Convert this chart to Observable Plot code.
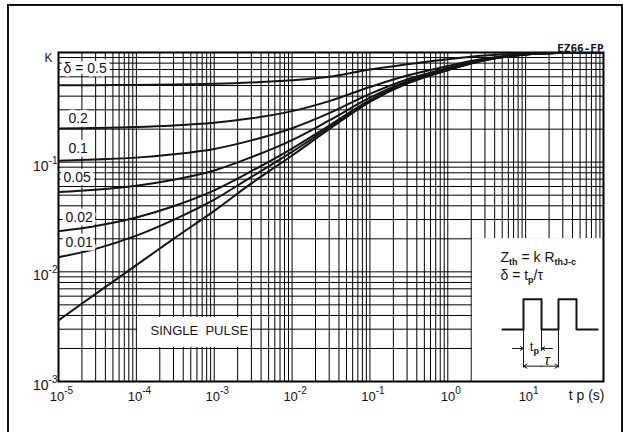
<!DOCTYPE html>
<html><head><meta charset="utf-8">
<script src="https://cdn.jsdelivr.net/npm/d3@7"></script>
<script src="https://cdn.jsdelivr.net/npm/@observablehq/plot@0.6"></script>
<style>
html,body{margin:0;padding:0;background:#fff;overflow:hidden}
#wrap{position:relative;width:623px;height:432px}
#border{position:absolute;left:7px;top:4px;width:612px;height:440px;border:2px solid #111;border-bottom:none;pointer-events:none}
#chart{position:absolute;left:0;top:0}
</style></head><body>
<div id="wrap"><div id="chart"></div><div id="border"></div></div>
<script>
// ---- data ----
const tp = [1e-5, 3e-5, 1e-4, 3e-4, 1e-3, 3e-3, 1e-2, 3e-2, 1e-1, 3e-1, 1, 3, 10, 30, 100];
const kSingle = [0.0036, 0.0063, 0.0115, 0.020, 0.036, 0.064, 0.115, 0.20, 0.355, 0.52, 0.69, 0.85, 0.96, 0.993, 1.0];
const k001 = [0.0136, 0.0162, 0.0214, 0.0298, 0.0456, 0.0734, 0.124, 0.208, 0.361, 0.525, 0.693, 0.852, 0.96, 0.993, 1.0];
const k002 = [0.0235, 0.0262, 0.0313, 0.0396, 0.0553, 0.0827, 0.133, 0.216, 0.368, 0.530, 0.696, 0.853, 0.961, 0.993, 1.0];
const k005 = [0.0534, 0.056, 0.0609, 0.069, 0.084, 0.111, 0.159, 0.24, 0.387, 0.544, 0.706, 0.858, 0.962, 0.993, 1.0];
const k01 = [0.103, 0.106, 0.110, 0.118, 0.132, 0.158, 0.204, 0.28, 0.42, 0.568, 0.721, 0.865, 0.964, 0.994, 1.0];
const k02 = [0.203, 0.205, 0.209, 0.216, 0.229, 0.251, 0.292, 0.36, 0.484, 0.616, 0.752, 0.88, 0.968, 0.994, 1.0];
const k05 = [0.502, 0.503, 0.506, 0.51, 0.518, 0.532, 0.558, 0.60, 0.70, 0.78, 0.87, 0.94, 0.982, 0.997, 1.0];

const xTicks = [1e-5, 1e-4, 1e-3, 1e-2, 1e-1, 1, 10];
const xTickLabels = ["10^{-5}", "10^{-4}", "10^{-3}", "10^{-2}", "10^{-1}", "10^{0}", "10^{1}"];
const yTicks = [1e-3, 1e-2, 1e-1];
const yTickLabels = ["10^{-3}", "10^{-2}", "10^{-1}"];

const curveLabels = ["\u03b4 = 0.5", "0.2", "0.1", "0.05", "0.02", "0.01"];
const curveLabelTp = [1.16e-5, 1.34e-5, 1.34e-5, 1.16e-5, 1.23e-5, 1.23e-5];
const curveLabelK = [0.715, 0.25, 0.133, 0.0724, 0.0313, 0.0185];

// annotation (inset) items
const pulseTp = [5.05, 9.38, 9.38, 16.0, 16.0, 26.4, 26.4, 45.0, 45.0, 83.8];
const pulseK = [0.00298, 0.00298, 0.00562, 0.00562, 0.00298, 0.00298, 0.00562, 0.00562, 0.00298, 0.00298];

// ---- build ----
const series = [
  {s: "single", k: kSingle}, {s: "0.01", k: k001}, {s: "0.02", k: k002},
  {s: "0.05", k: k005}, {s: "0.1", k: k01}, {s: "0.2", k: k02}, {s: "0.5", k: k05}
];
const rows = series.flatMap(d => tp.map((t, i) => ({tp: t, k: d.k[i], s: d.s})));

const xGrid = [];
for (let e = -5; e <= 1; e++) for (let m = 1; m <= 9; m++) xGrid.push(m * Math.pow(10, e));
xGrid.push(100);
const yGrid = [];
for (let e = -3; e <= -1; e++) for (let m = 1; m <= 9; m++) yGrid.push(m * Math.pow(10, e));
yGrid.push(1);

const labelRows = curveLabels.map((t, i) => ({t, x: curveLabelTp[i], y: curveLabelK[i]}));
const pulseRows = pulseTp.map((t, i) => ({x: t, y: pulseK[i]}));

const FONT = "Liberation Sans, Arial, Helvetica, sans-serif";
const INK = "#141414";

const chart = Plot.plot({
  width: 623,
  height: 432,
  marginLeft: 58,
  marginRight: 20,
  marginTop: 52,
  marginBottom: 51,
  style: {fontFamily: FONT, fontSize: "13px", color: INK, background: "transparent"},
  x: {type: "log", domain: [1e-5, 100], axis: null},
  y: {type: "log", domain: [1e-3, 1], axis: null},
  marks: [
    Plot.ruleX(xGrid, {x: d => d, stroke: "#000", strokeWidth: 1}),
    Plot.ruleY(yGrid, {y: d => d, stroke: "#000", strokeWidth: 1}),
    // white label box for SINGLE PULSE and the inset box
    Plot.rect([{x1: 1.035e-4, x2: 2.92e-3, y1: 0.00205, y2: 0.00384}], {x1: "x1", x2: "x2", y1: "y1", y2: "y2", fill: "white"}),
    Plot.rect([{x1: 2.07, x2: 100, y1: 0.001, y2: 0.0201}], {x1: "x1", x2: "x2", y1: "y1", y2: "y2", fill: "white"}),
    Plot.frame({stroke: "#000", strokeWidth: 2}),
    Plot.line(rows, {x: "tp", y: "k", z: "s", stroke: INK, strokeWidth: 2, curve: "catmull-rom", clip: true}),
    // curve labels
    Plot.text(labelRows, {x: "x", y: "y", text: "t", textAnchor: "start", fontSize: 14, fill: INK, stroke: "white", strokeWidth: 7}),
    Plot.text(["SINGLE  PULSE"], {x: 1.52e-4, y: 0.00292, text: d => d, textAnchor: "start", fontSize: 13, fill: INK}),
    // axis labels
    Plot.text(xTicks, {x: d => d, frameAnchor: "bottom", text: (d, i) => xTickLabels[i], textAnchor: "middle", dx: 3, dy: 19, fontSize: 13, fill: INK}),
    Plot.text(yTicks, {y: d => d, frameAnchor: "left", text: (d, i) => yTickLabels[i], textAnchor: "end", dx: -1, dy: 4, fontSize: 14, fill: INK}),
    Plot.text(["K"], {frameAnchor: "top-left", text: d => d, textAnchor: "end", dx: -6, dy: 1, fontSize: 12, fill: INK}),
    Plot.text(["t p (s)"], {frameAnchor: "bottom-right", text: d => d, textAnchor: "end", dx: 1, dy: 18, fontSize: 14, fill: INK}),
    Plot.text(["EZ66-FP"], {frameAnchor: "top-right", text: d => d, textAnchor: "end", dy: -8, fontSize: 11, fontWeight: "bold", fontFamily: "DejaVu Sans Mono, monospace", fill: INK}),
    // inset
    Plot.text(["Z_{th} = k R_{thJ-c}"], {x: 4.75, y: 0.0135, text: d => d, textAnchor: "start", fontSize: 14, fill: INK}),
    Plot.text(["\u03b4 = t_{p}/\u03c4"], {x: 4.75, y: 0.00927, text: d => d, textAnchor: "start", fontSize: 14, fill: INK}),
    Plot.line(pulseRows, {x: "x", y: "y", stroke: INK, strokeWidth: 2}),
    Plot.link([
      {x1: 9.38, y1: 0.00298, x2: 9.38, y2: 0.00134},
      {x1: 16.0, y1: 0.00298, x2: 16.0, y2: 0.0019},
      {x1: 26.4, y1: 0.00298, x2: 26.4, y2: 0.00134}
    ], {x1: "x1", y1: "y1", x2: "x2", y2: "y2", stroke: INK, strokeWidth: 1}),
    Plot.arrow([
      {x1: 6.78, y1: 0.0020, x2: 9.38, y2: 0.0020},
      {x1: 22.1, y1: 0.0020, x2: 16.0, y2: 0.0020},
      {x1: 15.8, y1: 0.00138, x2: 9.38, y2: 0.00138},
      {x1: 15.8, y1: 0.00138, x2: 26.4, y2: 0.00138}
    ], {x1: "x1", y1: "y1", x2: "x2", y2: "y2", stroke: INK, strokeWidth: 1, headLength: 6}),
    Plot.text(["t_{p}"], {x: 11.3, y: 0.00205, text: d => d, textAnchor: "start", fontSize: 13, fill: INK}),
    Plot.text(["\u03c4"], {x: 17.5, y: 0.00155, text: d => d, textAnchor: "start", fontSize: 14, fontStyle: "italic", fill: INK})
  ]
});

function richify(svg) {
  const ns = "http://www.w3.org/2000/svg";
  svg.querySelectorAll("text").forEach(el => {
    const s = el.textContent;
    if (!/[\^_]\{/.test(s) || el.querySelector("tspan")) return;
    el.textContent = "";
    const re = /([\^_])\{([^}]*)\}|([^\^_]+)/g;
    let m, offset = 0;
    while ((m = re.exec(s))) {
      const t = document.createElementNS(ns, "tspan");
      let target;
      if (m[3] !== undefined) { t.textContent = m[3]; target = 0; }
      else if (m[1] === "^") { t.textContent = m[2]; t.setAttribute("font-size", "10"); target = -7; }
      else { t.textContent = m[2]; t.setAttribute("font-size", "9"); t.setAttribute("font-weight", "bold"); target = 3; }
      if (target !== offset) { t.setAttribute("dy", String(target - offset)); offset = target; }
      el.appendChild(t);
    }
  });
}
richify(chart);
document.getElementById("chart").appendChild(chart);
</script>
</body></html>
